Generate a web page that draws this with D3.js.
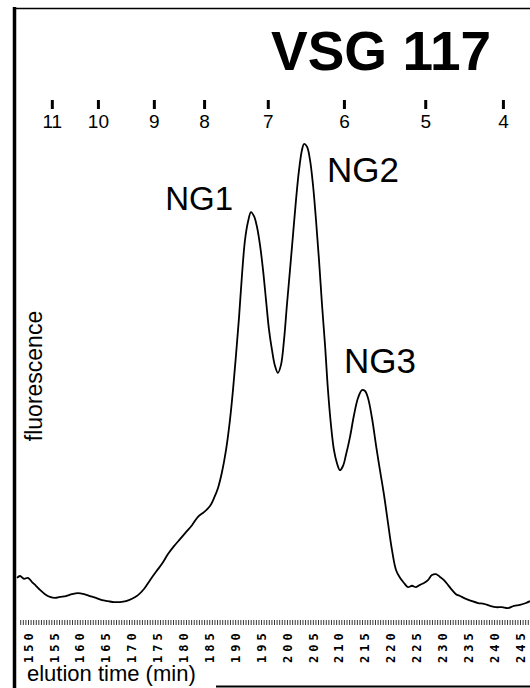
<!DOCTYPE html>
<html>
<head>
<meta charset="utf-8">
<script src="https://cdn.jsdelivr.net/npm/d3@7"></script>
<style>
  html, body { margin: 0; padding: 0; background: #fff; }
  svg { display: block; font-family: "Liberation Sans", Arial, Helvetica, sans-serif; }
</style>
</head>
<body>
<script>
// chromatogram trace
var elutionTime = [147.88, 148.46, 149.23, 150.0, 150.77, 151.54, 152.32, 153.28, 154.25, 155.21,
  156.18, 157.34, 158.5, 159.65, 160.81, 161.97, 163.13, 164.29, 165.45, 166.6,
  167.76, 168.92, 170.08, 171.24, 172.4, 173.56, 174.72, 175.87, 177.03, 178.19,
  179.35, 180.51, 181.67, 182.82, 183.98, 185.14, 185.91, 186.69, 187.46, 188.23,
  189.0, 189.58, 190.16, 190.74, 191.32, 191.9, 192.48, 193.06, 193.64, 194.22,
  194.8, 195.38, 195.96, 196.54, 197.11, 197.69, 198.27, 198.85, 199.43, 200.0,
  200.59, 201.17, 201.75, 202.33, 202.9, 203.29, 203.87, 204.45, 205.03, 205.61,
  206.19, 206.77, 207.35, 207.92, 208.5, 209.08, 209.66, 210.24, 210.82, 211.4,
  212.17, 212.94, 213.72, 214.49, 215.07, 215.65, 216.42, 217.19, 217.96, 218.74,
  219.51, 220.28, 221.06, 221.83, 222.6, 223.37, 224.14, 224.92, 225.69, 226.46,
  227.23, 228.0, 228.78, 229.55, 230.32, 231.09, 231.87, 232.64, 233.41, 234.57,
  235.73, 236.89, 238.05, 239.2, 240.36, 241.52, 242.68, 243.84, 245.0, 246.16, 246.93];
var fluorescence = [6.9, 7.3, 6.7, 6.9, 6.0, 5.2, 4.3, 3.4, 2.8, 2.6,
  2.8, 3.0, 3.4, 3.6, 3.4, 3.0, 2.6, 2.1, 1.9, 1.7,
  1.7, 1.9, 2.4, 3.2, 4.5, 6.4, 8.2, 9.9, 12.0, 13.7,
  15.2, 16.7, 18.2, 20.0, 21.0, 22.3, 24.0, 26.2, 29.6, 34.3,
  40.8, 47.2, 54.7, 62.7, 71.9, 79.4, 83.3, 85.4, 84.5, 82.2,
  78.3, 73.0, 66.5, 60.1, 55.8, 52.4, 50.9, 52.6, 57.9, 65.5,
  73.0, 80.5, 88.0, 94.4, 98.7, 100, 99.4, 96.6, 91.2, 83.7,
  75.1, 65.5, 56.9, 47.2, 39.7, 34.3, 31.5, 30.0, 30.9, 33.3,
  37.1, 41.8, 45.5, 47.2, 47.0, 45.5, 41.2, 35.4, 30.0, 24.7,
  18.7, 12.9, 8.6, 6.9, 5.8, 4.9, 5.2, 4.9, 5.4, 5.8,
  6.4, 7.5, 7.7, 7.1, 6.4, 5.4, 4.3, 3.4, 3.0, 2.4,
  1.9, 1.5, 1.3, 0.9, 0.6, 0.6, 0.4, 0.9, 1.1, 1.5, 1.9];

// glucose unit markers along the top
var guLabels = ["11", "10", "9", "8", "7", "6", "5", "4"];
var guTimes = [154.6, 163.5, 174.3, 184.0, 196.3, 211.0, 226.7, 241.7];

// elution time ruler labels
var rulerLabels = [150, 155, 160, 165, 170, 175, 180, 185, 190, 195,
  200, 205, 210, 215, 220, 225, 230, 235, 240, 245];

var peakNames = ["NG1", "NG2", "NG3"];
var peakTimes = [193.06, 203.29, 214.49];
var peakValues = [85.4, 100, 47.2];

var W = 530, H = 688;

var svg = d3.select("body").append("svg")
    .attr("width", W)
    .attr("height", H);

var x = d3.scaleLinear().domain([150, 245]).range([28, 520]);
var y = d3.scaleLinear().domain([0, 100]).range([610, 144]);

// frame
svg.append("line").attr("x1", 14.5).attr("y1", 7).attr("x2", 14.5).attr("y2", H)
    .attr("stroke", "#000").attr("stroke-width", 3.5);
svg.append("line").attr("x1", 13).attr("y1", 8.5).attr("x2", W).attr("y2", 8.5)
    .attr("stroke", "#000").attr("stroke-width", 1.6);
svg.append("line").attr("x1", 216).attr("y1", 686.5).attr("x2", W).attr("y2", 686.5)
    .attr("stroke", "#000").attr("stroke-width", 2);

// title
svg.append("text")
    .attr("x", 271).attr("y", 70)
    .style("font-size", "55px").style("font-weight", "bold")
    .text("VSG 117");

// top glucose unit scale
var guAxis = d3.axisBottom(x)
    .tickValues(guTimes)
    .tickFormat(function(d, i) { return guLabels[i]; })
    .tickSize(9)
    .tickPadding(6);
var gTop = svg.append("g").attr("transform", "translate(0,100)").call(guAxis);
gTop.select(".domain").remove();
gTop.selectAll(".tick line").attr("stroke", "#000").attr("stroke-width", 3);
gTop.selectAll(".tick text")
    .attr("fill", "#000")
    .style("font-family", "'Liberation Sans', Arial, sans-serif")
    .style("font-size", "19px");

// elution trace
var line = d3.line()
    .x(function(d, i) { return x(elutionTime[i]); })
    .y(function(d) { return y(d); })
    .curve(d3.curveCatmullRom.alpha(0.5));
svg.append("path")
    .datum(fluorescence)
    .attr("d", line)
    .attr("fill", "none")
    .attr("stroke", "#000")
    .attr("stroke-width", 1.8)
    .attr("stroke-linejoin", "round");

// peak labels
var labelOffsets = [[-18, -2, "end", 33], [23, 38, "start", 35], [-18, -17, "start", 35]];
svg.selectAll(".peak")
    .data(peakNames)
    .enter().append("text")
    .attr("class", "peak")
    .attr("x", function(d, i) { return x(peakTimes[i]) + labelOffsets[i][0]; })
    .attr("y", function(d, i) { return y(peakValues[i]) + labelOffsets[i][1]; })
    .style("text-anchor", function(d, i) { return labelOffsets[i][2]; })
    .style("font-size", function(d, i) { return labelOffsets[i][3] + "px"; })
    .text(function(d) { return d; });

// y label
svg.append("text")
    .attr("transform", "translate(42,376) rotate(-90)")
    .style("text-anchor", "middle")
    .style("font-size", "23px")
    .text("fluorescence");

// bottom ruler: minor ticks
var minorAxis = d3.axisBottom(x)
    .tickValues(d3.range(148.5, 247.1, 0.5))
    .tickFormat("")
    .tickSize(5);
var gMinor = svg.append("g").attr("transform", "translate(0,620)").call(minorAxis);
gMinor.select(".domain").remove();
gMinor.selectAll(".tick line").attr("stroke", "#000").attr("stroke-width", 0.8);

// bottom ruler labels
var rulerAxis = d3.axisBottom(x)
    .tickValues(rulerLabels)
    .tickSize(0)
    .tickFormat(d3.format("d"));
var gRuler = svg.append("g").attr("transform", "translate(0,620)").call(rulerAxis);
gRuler.select(".domain").remove();
gRuler.selectAll(".tick text")
    .attr("transform", "rotate(-90)")
    .attr("x", -43)
    .attr("y", 0)
    .attr("dy", "0.35em")
    .attr("fill", "#000")
    .style("text-anchor", "start")
    .style("font-family", "'DejaVu Sans Mono', monospace")
    .style("font-weight", "bold")
    .style("font-size", "12px")
    .style("letter-spacing", "4px");

// x label
svg.append("text")
    .attr("x", 27).attr("y", 681)
    .style("font-size", "22px")
    .text("elution time (min)");
</script>
</body>
</html>
